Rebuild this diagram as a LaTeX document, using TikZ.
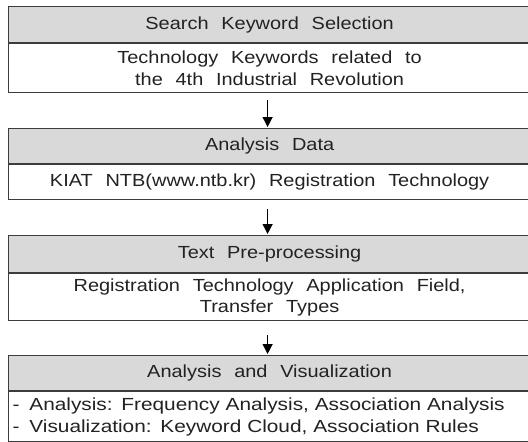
\documentclass[tikz,border=0pt]{standalone}
\usepackage{fontspec}
\setmainfont{Liberation Sans}[WordSpace=2.3, FakeStretch=1.14]
\newfontfamily\widesp{Liberation Sans}[WordSpace=3.0, FakeStretch=1.19]
\usetikzlibrary{arrows.meta}
\definecolor{hdrgray}{HTML}{D9D9D9}
\definecolor{edgegray}{HTML}{3C3C3C}
\definecolor{txt}{HTML}{222222}
\begin{document}
\begin{tikzpicture}[x=1pt,y=-1pt,
  hdr/.style={draw=edgegray, line width=1.2pt, fill=hdrgray, anchor=north west,
    minimum width=522pt, inner sep=0pt, text=txt,
    font=\fontsize{17.5}{21}\selectfont},
  bodybox/.style={draw=edgegray, line width=1.2pt, fill=white, anchor=north west,
    minimum width=522pt, inner sep=0pt, text=txt, align=center,
    font=\fontsize{17.5}{21.5}\selectfont},
  flow/.style={draw=black, line width=1.2pt, -{Triangle[width=10pt,length=10pt]}}]
\useasboundingbox (0,0) rectangle (528,442);
\fill[white] (0,0) rectangle (528,442);

\node[hdr, minimum height=36pt] (h1) at (8,6) {Search Keyword Selection};
\node[bodybox, minimum height=49pt] (b1) at (h1.south west) {Technology Keywords related to\\the 4th Industrial Revolution};

\node[hdr, minimum height=35pt] (h2) at (8,128) {Analysis Data};
\node[bodybox, minimum height=35pt] (b2) at (h2.south west) {KIAT NTB(www.ntb.kr) Registration Technology};

\node[hdr, minimum height=37pt] (h3) at (8,235) {Text Pre-processing};
\node[bodybox, minimum height=47pt] (b3) at (h3.south west) {Registration Technology Application Field,\\Transfer Types};

\node[hdr, minimum height=35pt] (h4) at (8,355) {Analysis and Visualization};
\node[bodybox, minimum height=50pt, align=left, text width=518pt,
  font=\widesp\fontsize{17.5}{22}\selectfont] (b4) at (h4.south west) {\hspace*{2pt}-\hspace{4pt} Analysis: Frequency Analysis, Association Analysis\\\hspace*{2pt}-\hspace{4pt} Visualization: Keyword Cloud, Association Rules};

\draw[flow, shorten <=7pt, shorten >=1pt] ([xshift=-2pt]b1.south) -- ([xshift=-2pt]h2.north);
\draw[flow, shorten <=9pt, shorten >=1pt] ([xshift=-2pt]b2.south) -- ([xshift=-2pt]h3.north);
\draw[flow, shorten <=14pt, shorten >=1pt] ([xshift=-2pt]b3.south) -- ([xshift=-2pt]h4.north);
\end{tikzpicture}
\end{document}
